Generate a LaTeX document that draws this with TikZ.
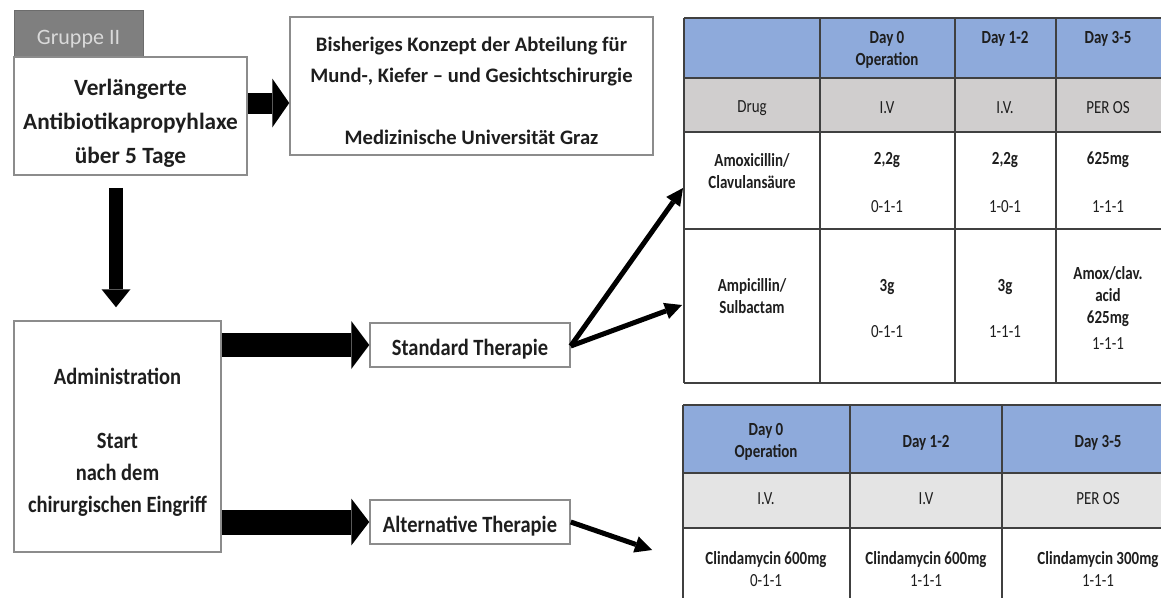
\documentclass[tikz,border=0pt]{standalone}
\usepackage{fontspec}
\setmainfont{Carlito}
\newfontfamily\narrowfont[FakeStretch=0.88]{Carlito}
\newfontfamily\tabfont[FakeStretch=0.81]{Carlito}
\usetikzlibrary{arrows.meta, calc}

\definecolor{hdrblue}{HTML}{8EAADB}
\definecolor{rowgray}{HTML}{D0CECE}
\definecolor{rowgraylt}{HTML}{E4E4E4}
\definecolor{boxgray}{HTML}{8C8C8C}
\definecolor{tabgray}{HTML}{7F7F7F}
\definecolor{tabtext}{HTML}{DADADA}
\definecolor{txt}{HTML}{1E1E1E}

\tikzset{
  box/.style={draw=boxgray, line width=1.5pt, fill=white, inner sep=0pt},
  boxtext/.style={align=center, text=txt, inner sep=0pt,
    font=\narrowfont\bfseries\fontsize{23.3}{32}\selectfont},
  grptab/.style={draw=tabgray!85!black, line width=1pt, fill=tabgray, inner sep=0pt},
  cell/.style={align=center, text=txt, inner sep=0pt, font=\tabfont\fontsize{18.5}{22}\selectfont},
  bcell/.style={cell, font=\tabfont\bfseries\fontsize{18.5}{22}\selectfont},
  tabline/.style={draw=black!75, line width=1.5pt},
  thinarrow/.style={line width=5pt, -{Triangle[length=17pt,width=17pt,line width=0pt]}},
}

\begin{document}
\begin{tikzpicture}[x=1pt, y=-1pt]
  \useasboundingbox (0,0) rectangle (1161,597);
  \clip (0,0) rectangle (1161,597);

  % left column
  \node[grptab, minimum width=129pt, minimum height=47pt] (grp) at (78.5,33.5) {};
  \node[text=tabtext, inner sep=0pt, font=\fontsize{22}{26}\selectfont]
    at ([yshift=-5.5pt]grp.center) {Gruppe II};
  \node[box, minimum width=233pt, minimum height=118pt] (verl) at (130.5,116) {};
  \node[boxtext, font=\bfseries\fontsize{23.3}{34}\selectfont]
    at ([yshift=-7pt]verl.center) {Verlängerte\\Antibiotikapropyhlaxe\\über 5 Tage};
  \node[box, minimum width=363pt, minimum height=138pt] (konz) at (471.5,86) {};
  \node[boxtext, font=\bfseries\fontsize{20.6}{31}\selectfont]
    at ([yshift=-4.5pt]konz.center)
    {Bisheriges Konzept der Abteilung für\\Mund-, Kiefer – und Gesichtschirurgie\\[31pt]Medizinische Universität Graz};
  \node[box, minimum width=207pt, minimum height=231pt] (admin) at (117.5,436.5) {};
  \node[boxtext] at ([yshift=-6pt]admin.center)
    {Administration\\[32pt]Start\\nach dem\\chirurgischen Eingriff};
  \node[box, minimum width=200pt, minimum height=44pt] (std) at (470,345) {};
  \node[boxtext] at ([yshift=-4pt]std.center) {Standard Therapie};
  \node[box, minimum width=200pt, minimum height=44pt] (alt) at (470,522) {};
  \node[boxtext] at ([yshift=-4pt]alt.center) {Alternative Therapie};

  % block arrows
  \coordinate (a1) at ([yshift=13pt]verl.east);
  \draw[line width=21pt, -{Triangle[length=17pt,width=49pt,line width=0pt]}]
    (a1) -- (a1 -| konz.west);
  \draw[line width=14pt, -{Triangle[length=18pt,width=29pt,line width=0pt]},
    shorten <=12pt, shorten >=13pt] (verl.south -| 116,0) -- (admin.north -| 116,0);
  \draw[line width=24pt, -{Triangle[length=18pt,width=48pt,line width=0pt]}]
    (admin.east |- std.west) -- (std.west);
  \draw[line width=25pt, -{Triangle[length=18pt,width=47pt,line width=0pt]}]
    (admin.east |- alt.west) -- (alt.west);

  % thin arrows to the tables
  \coordinate (t1a) at (683,188);
  \coordinate (t1b) at (682,305);
  \coordinate (t2) at (652,550);
  \draw[thinarrow] ([yshift=-1pt]std.east) -- (t1a);
  \draw[thinarrow] ([yshift=-1pt]std.east) -- (t1b);
  \draw[thinarrow] (alt.east) -- (t2);

  % table 1
  \fill[hdrblue] (684,18) rectangle (1170,78);
  \fill[rowgray] (684,78) rectangle (1170,132);
  \foreach \y in {18,78,132,229,383}
    \draw[tabline] (684,\y) -- (1170,\y);
  \foreach \x in {684,820,955,1056}
    \draw[tabline] (\x,18) -- (\x,383);

  \node[bcell] (h1a) at (887,50) {Day 0\\Operation};
  \node[bcell] (h1b) at (1005,39) {Day 1-2};
  \node[bcell] (h1c) at (1108,39) {Day 3-5};
  \node[cell] (r1a) at (752,108) {Drug};
  \node[cell] (r1b) at (887,108) {I.V};
  \node[cell] (r1c) at (1005,108) {I.V.};
  \node[cell] (r1d) at (1108,108) {PER OS};
  \node[bcell] (amox) at (752,171) {Amoxicillin/\\Clavulansäure};
  \node[bcell] (amoxa) at (887,160) {2,2g};
  \node[cell] at (887,207) {0-1-1};
  \node[bcell] (amoxb) at (1005,160) {2,2g};
  \node[cell] at (1005,207) {1-0-1};
  \node[bcell] (amoxc) at (1108,160) {625mg};
  \node[cell] at (1108,207) {1-1-1};
  \node[bcell] (ampi) at (752,296) {Ampicillin/\\Sulbactam};
  \node[bcell] (ampia) at (887,287) {3g};
  \node[cell] at (887,332) {0-1-1};
  \node[bcell] (ampib) at (1005,287) {3g};
  \node[cell] at (1005,332) {1-1-1};
  \node[bcell] (ampic) at (1108,297) {Amox/clav.\\acid\\625mg};
  \node[cell] at (1108,344) {1-1-1};

  % table 2
  \fill[hdrblue] (683,405) rectangle (1200,473);
  \fill[rowgraylt] (683,473) rectangle (1200,528);
  \foreach \y in {405,473,528}
    \draw[tabline] (683,\y) -- (1200,\y);
  \foreach \x in {683,850,1002}
    \draw[tabline] (\x,405) -- (\x,610);

  \node[bcell] (h2a) at (766,442) {Day 0\\Operation};
  \node[bcell] (h2b) at (926,443) {Day 1-2};
  \node[bcell] (h2c) at (1098,443) {Day 3-5};
  \node[cell] (r2a) at (766,499) {I.V.};
  \node[cell] (r2b) at (926,499) {I.V};
  \node[cell] (r2c) at (1098,499) {PER OS};
  \node[cell] (clin1) at (766,569) {\textbf{Clindamycin 600mg}\\0-1-1};
  \node[cell] (clin2) at (926,569) {\textbf{Clindamycin 600mg}\\1-1-1};
  \node[cell] (clin3) at (1098,569) {\textbf{Clindamycin 300mg}\\1-1-1};
\end{tikzpicture}
\end{document}
